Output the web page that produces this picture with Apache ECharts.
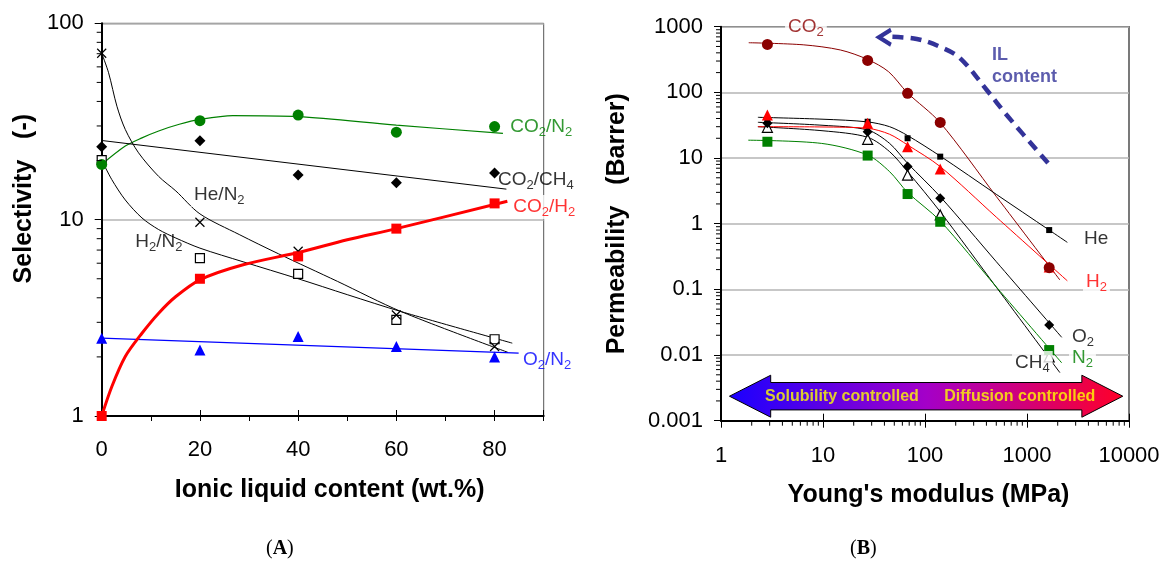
<!DOCTYPE html>
<html>
<head>
<meta charset="utf-8">
<script src="https://cdn.jsdelivr.net/npm/echarts@6/dist/echarts.min.js"></script>
<style>
  html, body { margin: 0; padding: 0; background: #fff; }
  #chart { width: 1164px; height: 567px; }
</style>
</head>
<body>
<div id="chart"></div>
<script>
// ---------- panel A : selectivity vs ionic liquid content ----------
const ilContent = [0, 20, 40, 60, 80];
const selCO2N2  = [19.1, 31.9, 34.1, 27.9, 29.8];
const selCO2CH4 = [23.5, 25.2, 16.9, 15.4, 17.3];
const selCO2H2  = [1.0, 5.0, 6.5, 9.0, 12.1];
const selHeN2   = [70.4, 9.7, 6.9, 3.27, 2.26];
const selH2N2   = [20.1, 6.37, 5.3, 3.09, 2.46];
const selO2N2   = [2.49, 2.17, 2.54, 2.26, 2.0];

// trend curves ([wt.%, selectivity])
const fitCO2N2  = [[0,19.1],[4.8,23.7],[8.2,26.1],[11.6,28.3],[15.8,30.6],[20,32.4],[26.7,33.9],[40,33.5],[60,30.3],[81.7,27.5]];
const fitCO2CH4 = [[0,25.3],[82.4,14.3]];
const fitCO2H2  = [[0,1],[2.05,1.41],[4.8,2.01],[8.2,2.64],[11.6,3.34],[15.1,4.06],[20,4.94],[28.8,5.89],[40,6.8],[50,7.9],[60,9.0],[82.6,12.4]];
const fitHeN2   = [[0,70.4],[1.4,56],[3.1,37.8],[4.8,28.8],[7.5,21.9],[11.6,16.6],[15.1,14.0],[20,10.7],[28,8.4],[36,6.7],[48,4.85],[61,3.4],[82.7,2.11]];
const fitH2N2   = [[0,20.1],[2.05,16],[4.8,12.6],[8.2,10.2],[11.6,8.9],[15.1,8.06],[20,7.16],[28.8,6.1],[40,5.0],[50,4.15],[61,3.4],[83.6,2.35]];
const fitO2N2   = [[0,2.49],[84.9,2.09]];

// ---------- panel B : permeability vs Young's modulus ----------
const modulus  = [2.85, 27.4, 67.5, 141, 1650];
const permCO2  = [538, 307, 96.6, 34.9, 0.214];
const permHe   = [37, 35.7, 20, 10.5, 0.80];
const permH2   = [45.2, 33.8, 14.9, 6.8, 0.22];
const permO2   = [33.8, 25.2, 7.4, 2.44, 0.0287];
const permCH4  = [29.4, 19.3, 5.5, 1.36, 0.0094];
const permN2   = [17.7, 10.9, 2.83, 1.07, 0.0119];

const fitCO2 = [[1.87,570],[6.4,530],[14.8,442],[27.3,318],[44,206],[67,99],[140,34.9],[500,2.6],[2100,0.139]];
const fitHe  = [[2.3,41.7],[10,39],[27.4,35.5],[45,30],[67.5,22],[141,10.7],[500,2.8],[1650,0.8],[2485,0.52]];
const fitH2  = [[2.3,30],[10,29.7],[27.4,28.4],[45,23],[67.5,15.8],[141,7.4],[500,1.26],[2485,0.135]];
const fitO2  = [[2.3,35],[10,31.5],[27.4,26.7],[45,16.7],[67.5,8.3],[141,2.58],[500,0.264],[2190,0.0186]];
const fitCH4 = [[2.3,30],[10,26],[27.4,20.7],[45,12.5],[67.5,6.2],[141,1.52],[500,0.108],[2100,0.0054]];
const fitN2  = [[1.85,18.7],[9.7,16.7],[27.4,11.1],[45,6.2],[67.5,3.0],[141,1.1],[500,0.109],[2190,0.0076]];

// annotations (data units)
const ilArrowPath = [[1607,8.4],[632,45.2],[403,108.6],[220,333],[140,496],[83,650],[44,705]];
const ilArrowHead = [40.5, 690];
const regimeArrowX = [1.21, 3.07, 3450, 8690];
const regimeArrowY = 0.00236;

const labelsA = [
  { text: 'CO{s|2}/N{s|2}',  x: 83.2, y: 29.6, color: '#008000' },
  { text: 'CO{s|2}/CH{s|4}', x: 80.7, y: 15.9, color: '#000' },
  { text: 'CO{s|2}/H{s|2}',  x: 83.2, y: 11.6, color: '#ff0000', bg: true },
  { text: 'He/N{s|2}',       x: 18.2, y: 13.4, color: '#000', bg: true },
  { text: 'H{s|2}/N{s|2}',   x: 6.85, y: 7.7,  color: '#000' },
  { text: 'O{s|2}/N{s|2}',   x: 85.8, y: 1.93, color: '#0000ff' }
];
const labelsB = [
  { text: 'CO{s|2}', x: 6.8,  y: 1000,    color: '#8b0000', bg: true, center: true },
  { text: 'He',      x: 3620, y: 0.585,   color: '#000' },
  { text: 'H{s|2}',  x: 3540, y: 0.131,   color: '#ff0000', bg: true },
  { text: 'O{s|2}',  x: 2760, y: 0.019,   color: '#000' },
  { text: 'N{s|2}',  x: 2580, y: 0.009,   color: '#008000', bg: true },
  { text: 'CH{s|4}', x: 713,  y: 0.00757, color: '#000', bg: true }
];
const regimeTexts = [
  { text: 'Solubility controlled', x: 15.35, y: 0.00232 },
  { text: 'Diffusion controlled',  x: 850,   y: 0.00232 }
];

// minor tick positions of the log axes
const minorSteps = [2, 3, 4, 5, 6, 7, 8, 9];
const decadeTicks = (lo, hi) => {
  const out = [];
  for (let d = lo; d < hi * 0.999; d *= 10) minorSteps.forEach(s => out.push(+(d * s).toPrecision(3)));
  return out;
};
const minorYA = decadeTicks(1, 100);
const minorYB = decadeTicks(0.001, 1000);
const minorXB = decadeTicks(1, 10000);

const FONT = '"Liberation Sans", Arial, sans-serif';
const IL_BLUE = '#333399';
const sub = { fontSize: 13, lineHeight: 14, verticalAlign: 'bottom' };
const pair = (xs, ys) => xs.map((x, i) => [x, ys[i]]);

function fitLine(g, pts, color, width, smooth) {
  return {
    type: 'line', xAxisIndex: g, yAxisIndex: g, data: pts,
    symbol: 'none', showSymbol: false, smooth: smooth === false ? false : 0.3,
    lineStyle: { color: color, width: width || 1 },
    silent: true, z: 3, animation: false
  };
}
function marks(g, xs, ys, symbol, size, fill, stroke, bw) {
  return {
    type: 'scatter', xAxisIndex: g, yAxisIndex: g, data: pair(xs, ys),
    symbol: symbol, symbolSize: size,
    itemStyle: { color: fill, borderColor: stroke || fill, borderWidth: bw || 0, opacity: 1 },
    silent: true, z: 5, animation: false
  };
}
function textLabels(g, list, extra) {
  return {
    type: 'scatter', xAxisIndex: g, yAxisIndex: g, symbolSize: 0,
    itemStyle: { color: 'transparent' }, silent: true, z: 8, animation: false,
    data: list.map(l => ({
      value: [l.x, l.y],
      label: Object.assign({
        show: true, formatter: l.text, position: l.center ? 'inside' : 'right', distance: 0,
        color: l.color, fontFamily: FONT, fontSize: 19, lineHeight: 24,
        backgroundColor: l.bg ? '#fff' : 'transparent', padding: l.bg ? [0, 3] : 0,
        rich: { s: sub }
      }, extra || {})
    }))
  };
}
function minorTicks(g, values, dir, ref, len) {
  return {
    type: 'custom', xAxisIndex: g, yAxisIndex: g, silent: true, z: 6, animation: false,
    data: values.map(v => dir === 'y' ? [ref, v] : [v, ref]),
    renderItem: (params, api) => {
      const p = api.coord([api.value(0), api.value(1)]);
      const shape = dir === 'y'
        ? { x1: p[0] - len, y1: p[1], x2: p[0], y2: p[1] }
        : { x1: p[0], y1: p[1], x2: p[0], y2: p[1] + len };
      return { type: 'line', shape: shape, style: { stroke: '#000', lineWidth: 1 } };
    }
  };
}

const axisText = { color: '#000', fontFamily: FONT, fontSize: 22 };
const nameText = { color: '#000', fontFamily: FONT, fontSize: 25, fontWeight: 'bold' };
const blackLine = { show: true, lineStyle: { color: '#000', width: 2 } };
const gridLine = { show: true, lineStyle: { color: '#b4b4b4', width: 1.5 } };
const logFmt = v => String(+(+v).toPrecision(3));
const xSym = 'path://M0,0L10,10M0,10L10,0';
const chevron = 'path://M10,0L0,7L10,14';

const option = {
  backgroundColor: '#fff',
  animation: false,
  grid: [
    { left: 101.7, top: 23.3, width: 442, height: 392.7, show: true, borderColor: '#555', borderWidth: 1, outerBoundsMode: 'none' },
    { left: 721, top: 26.7, width: 408, height: 394, show: true, borderColor: '#222', borderWidth: 1.2, outerBoundsMode: 'none' }
  ],
  xAxis: [
    { gridIndex: 0, type: 'value', min: 0, max: 90, interval: 10, position: 'bottom',
      axisLine: blackLine, axisTick: { show: true, length: 5, lineStyle: { color: '#000' } },
      axisLabel: { ...axisText, margin: 23, formatter: v => (v % 20 === 0 && v <= 80) ? String(v) : '' },
      splitLine: { show: false },
      name: 'Ionic liquid content (wt.%)', nameLocation: 'middle', nameGap: 62,
      nameTextStyle: { ...nameText, padding: [0, 0, 0, 14] } },
    { gridIndex: 1, type: 'log', logBase: 10, min: 1, max: 10000, position: 'bottom',
      axisLine: blackLine, axisTick: { show: true, length: 7, lineStyle: { color: '#000' } },
      axisLabel: { ...axisText, margin: 24, formatter: logFmt },
      splitLine: { show: false },
      name: "Young's modulus (MPa)", nameLocation: 'middle', nameGap: 62,
      nameTextStyle: { ...nameText, padding: [0, 0, 0, 7] } },
    { gridIndex: 0, type: 'value', min: 0, max: 90, interval: 20, position: 'bottom',
      axisLine: { show: false }, axisLabel: { show: false }, splitLine: { show: false },
      axisTick: { show: true, inside: true, length: 6, lineStyle: { color: '#000' } } },
    { gridIndex: 1, type: 'log', logBase: 10, min: 1, max: 10000, position: 'bottom',
      axisLine: { show: false }, axisLabel: { show: false }, splitLine: { show: false },
      axisTick: { show: true, inside: true, length: 7, lineStyle: { color: '#000' } } }
  ],
  yAxis: [
    { gridIndex: 0, type: 'log', logBase: 10, min: 1, max: 100,
      axisLine: blackLine, axisTick: { show: true, length: 7, lineStyle: { color: '#000' } },
      axisLabel: { ...axisText, margin: 18, formatter: logFmt },
      splitLine: gridLine,
      name: 'Selectivity   (-)', nameLocation: 'middle', nameRotate: 90, nameGap: 65,
      nameTextStyle: { ...nameText, padding: [0, 0, 0, 42] } },
    { gridIndex: 1, type: 'log', logBase: 10, min: 0.001, max: 1000,
      axisLine: blackLine, axisTick: { show: true, length: 7, lineStyle: { color: '#000' } },
      axisLabel: { ...axisText, margin: 18, formatter: logFmt },
      splitLine: gridLine,
      name: 'Permeability   (Barrer)', nameLocation: 'middle', nameRotate: 90, nameGap: 91,
      nameTextStyle: nameText }
  ],
  graphic: [
    { type: 'text', left: 266, top: 539, style: { text: '({b|A})', font: '20px "Liberation Serif", serif', fill: '#000',
      rich: { b: { fontWeight: 'bold', fontSize: 20, fontFamily: '"Liberation Serif", serif' } } } },
    { type: 'text', left: 850, top: 539, style: { text: '({b|B})', font: '20px "Liberation Serif", serif', fill: '#000',
      rich: { b: { fontWeight: 'bold', fontSize: 20, fontFamily: '"Liberation Serif", serif' } } } }
  ],
  series: [
    // ----- panel A -----
    fitLine(0, fitCO2N2, '#008000', 1.2),
    fitLine(0, fitCO2CH4, '#000', 1, false),
    fitLine(0, fitHeN2, '#000', 1),
    fitLine(0, fitH2N2, '#000', 1),
    fitLine(0, fitO2N2, '#0000ff', 1.2, false),
    fitLine(0, fitCO2H2, '#ff0000', 3),
    marks(0, ilContent, selCO2CH4, 'diamond', 11, '#000'),
    marks(0, ilContent, selH2N2, 'rect', 9, '#fff', '#000', 1.2),
    marks(0, ilContent, selHeN2, xSym, 9, 'none', '#000', 1.2),
    marks(0, ilContent, selO2N2, 'triangle', 11, '#0000ff'),
    marks(0, ilContent, selCO2N2, 'circle', 11, '#008000'),
    marks(0, ilContent, selCO2H2, 'rect', 10, '#ff0000'),
    textLabels(0, labelsA),
    minorTicks(0, minorYA, 'y', 0, 5),

    // ----- panel B -----
    {
      type: 'custom', xAxisIndex: 1, yAxisIndex: 1, silent: true, z: 2, animation: false,
      data: [[regimeArrowX[0], regimeArrowY]],
      renderItem: (params, api) => {
        const px = regimeArrowX.map(x => api.coord([x, regimeArrowY])[0]);
        const yc = api.coord([regimeArrowX[0], regimeArrowY])[1];
        const H = 21, h = 13.7;
        return {
          type: 'polygon',
          shape: { points: [
            [px[0], yc], [px[1], yc - H], [px[1], yc - h], [px[2], yc - h], [px[2], yc - H],
            [px[3], yc], [px[2], yc + H], [px[2], yc + h], [px[1], yc + h], [px[1], yc + H]
          ] },
          style: {
            fill: new echarts.graphic.LinearGradient(0, 0, 1, 0, [
              { offset: 0, color: '#1a00ff' },
              { offset: 0.5, color: '#a400c8' },
              { offset: 1, color: '#ff0028' }
            ]),
            stroke: '#000', lineWidth: 1
          }
        };
      }
    },
    fitLine(1, fitCO2, '#8b0000', 1),
    fitLine(1, fitHe, '#000', 1),
    fitLine(1, fitO2, '#000', 1),
    fitLine(1, fitCH4, '#000', 1),
    fitLine(1, fitH2, '#ff0000', 1),
    fitLine(1, fitN2, '#008000', 1),
    marks(1, modulus, permCH4, 'triangle', 10, '#fff', '#000', 1.2),
    marks(1, modulus, permO2, 'diamond', 10, '#000'),
    marks(1, modulus, permHe, 'rect', 6, '#000'),
    marks(1, modulus, permH2, 'triangle', 11, '#ff0000'),
    marks(1, modulus, permN2, 'rect', 10, '#008000'),
    marks(1, modulus, permCO2, 'circle', 11, '#8b0000'),
    // "IL content" dashed arrow
    {
      type: 'line', xAxisIndex: 1, yAxisIndex: 1, data: ilArrowPath,
      symbol: 'none', showSymbol: false, smooth: 0.35,
      lineStyle: { color: IL_BLUE, width: 4.5, type: [11, 7] },
      silent: true, z: 7, animation: false
    },
    {
      type: 'scatter', xAxisIndex: 1, yAxisIndex: 1, data: [ilArrowHead],
      symbol: chevron, symbolSize: [12, 15],
      itemStyle: { color: 'none', borderColor: IL_BLUE, borderWidth: 4, opacity: 1 },
      silent: true, z: 7, animation: false
    },
    textLabels(1, labelsB),
    textLabels(1, [{ text: 'IL\ncontent', x: 454, y: 252, color: IL_BLUE }],
      { fontWeight: 'bold', fontSize: 18, lineHeight: 22 }),
    textLabels(1, regimeTexts.map(t => Object.assign({ color: '#ffff00', center: true }, t)),
      { fontWeight: 'bold', fontSize: 16 }),
    minorTicks(1, minorYB, 'y', 1, 5),
    minorTicks(1, minorXB, 'x', 0.001, 5)
  ]
};

const chart = echarts.init(document.getElementById('chart'), null, { renderer: 'canvas' });
chart.setOption(option);
</script>
</body>
</html>
